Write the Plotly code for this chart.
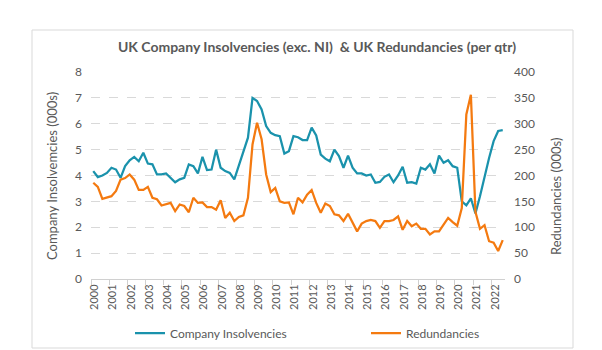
import plotly.graph_objects as go

years = list(range(2000, 2023))
quarter_index = list(range(91))  # 2000 Q1 .. 2022 Q3

insolvencies = [4.17, 3.94, 4.00, 4.10, 4.30, 4.23, 3.91, 4.36, 4.59, 4.72,
                4.55, 4.88, 4.46, 4.43, 4.04, 4.04, 4.08, 3.91, 3.74, 3.85,
                3.91, 4.43, 4.36, 4.08, 4.72, 4.21, 4.23, 5.00, 4.30, 4.17,
                4.10, 3.85, 4.36, 4.88, 5.46, 7.00, 6.88, 6.55, 5.91, 5.65,
                5.56, 5.52, 4.85, 4.94, 5.52, 5.48, 5.37, 5.37, 5.85, 5.55,
                4.81, 4.65, 4.55, 5.00, 4.75, 4.30, 4.77, 4.30, 4.08, 4.08,
                4.00, 4.04, 3.72, 3.75, 3.95, 4.04, 3.74, 4.00, 4.34, 3.72,
                3.74, 3.69, 4.30, 4.23, 4.43, 4.08, 4.77, 4.49, 4.59, 4.36,
                4.30, 3.00, 2.85, 3.12, 2.53, 3.20, 3.97, 4.68, 5.33, 5.72,
                5.75]

redundancies = [186, 178, 155, 157, 160, 170, 192, 195, 202, 192,
                172, 172, 178, 157, 154, 142, 144, 147, 131, 144,
                141, 129, 157, 147, 148, 139, 139, 134, 152, 118,
                128, 112, 120, 123, 157, 260, 302, 270, 202, 168,
                176, 150, 147, 148, 125, 157, 148, 163, 172, 147,
                128, 146, 141, 125, 123, 112, 126, 108, 92, 107,
                112, 114, 112, 99, 112, 112, 114, 121, 95, 112,
                102, 107, 97, 97, 86, 92, 92, 105, 118, 110,
                103, 137, 318, 356, 130, 97, 104, 73, 70, 54,
                75]

TEAL = "#1A92AC"
ORANGE = "#F47A10"
GREY = "#595959"
FONT = "Lato"

fig = go.Figure()
fig.add_trace(go.Scatter(x=quarter_index, y=insolvencies, mode="lines",
                         name="Company Insolvencies", legend="legend",
                         line=dict(color=TEAL, width=2.25)))
fig.add_trace(go.Scatter(x=quarter_index, y=redundancies, mode="lines",
                         name="Redundancies", yaxis="y2", legend="legend2",
                         line=dict(color=ORANGE, width=2.25)))

L, R, T, B = 91, 505, 72, 279
W, H = 602, 350

def px(x):
    return (x - L) / (R - L)

def py(y):
    return (B - y) / (B - T)

legend_common = dict(orientation="h", xanchor="left", yanchor="middle",
                     xref="paper", yref="paper", y=py(333),
                     font=dict(size=12, color=GREY), bgcolor="rgba(0,0,0,0)")

fig.update_layout(
    width=W, height=H,
    margin=dict(l=L, r=W - R, t=T, b=H - B, autoexpand=False),
    paper_bgcolor="white", plot_bgcolor="white",
    font=dict(family=FONT, color=GREY, size=12),
    title=dict(text="<b>UK Company Insolvencies (exc. NI)  &amp; UK Redundancies (per qtr)</b>",
               x=317 / W, xref="container", xanchor="center",
               y=1 - 47 / H, yref="container", yanchor="middle",
               font=dict(family=FONT, size=14, color=GREY)),
    xaxis=dict(
        range=[-0.5, 90.5],
        tickmode="array",
        tickvals=[4 * k + 0.3 for k in range(len(years))],
        ticktext=[str(y) for y in years],
        tickangle=-90,
        ticks="", ticklen=0,
        tickfont=dict(size=11, color=GREY),
        showgrid=False, zeroline=False,
        showline=True, linecolor="#d0d0d0", linewidth=1,
        minor=dict(tickmode="array", tickvals=[4 * k - 0.5 for k in range(len(years))],
                   ticks="outside", ticklen=5, tickcolor="#d0d0d0", tickwidth=1,
                   showgrid=False),
    ),
    yaxis=dict(
        range=[0, 8], dtick=1, tick0=0,
        showgrid=True, gridcolor="#d9d9d9", griddash="dash", gridwidth=1,
        zeroline=False, showline=False, ticks="",
        ticklabelstandoff=8,
        tickfont=dict(size=12, color=GREY),
    ),
    yaxis2=dict(
        range=[0, 400], dtick=50, tick0=0, overlaying="y", side="right",
        showgrid=False, zeroline=False, showline=False, ticks="",
        ticklabelstandoff=8,
        tickfont=dict(size=12, color=GREY),
    ),
    legend=dict(x=px(130), **legend_common),
    legend2=dict(x=px(366), **legend_common),
    showlegend=True,
    shapes=[dict(type="rect", xref="paper", yref="paper",
                 x0=px(32), x1=px(573), y0=py(348), y1=py(30),
                 line=dict(color="#d9d9d9", width=1), layer="below")],
    annotations=[
        dict(text="Company Insolvemcies (000s)", xref="paper", yref="paper",
             x=px(52), y=py(176), textangle=-90, showarrow=False,
             xanchor="center", yanchor="middle", font=dict(size=13, color=GREY)),
        dict(text="Redundancies (000s)", xref="paper", yref="paper",
             x=px(556), y=py(197), textangle=-90, showarrow=False,
             xanchor="center", yanchor="middle", font=dict(size=13, color=GREY)),
    ],
)

fig.write_html("out.html")
